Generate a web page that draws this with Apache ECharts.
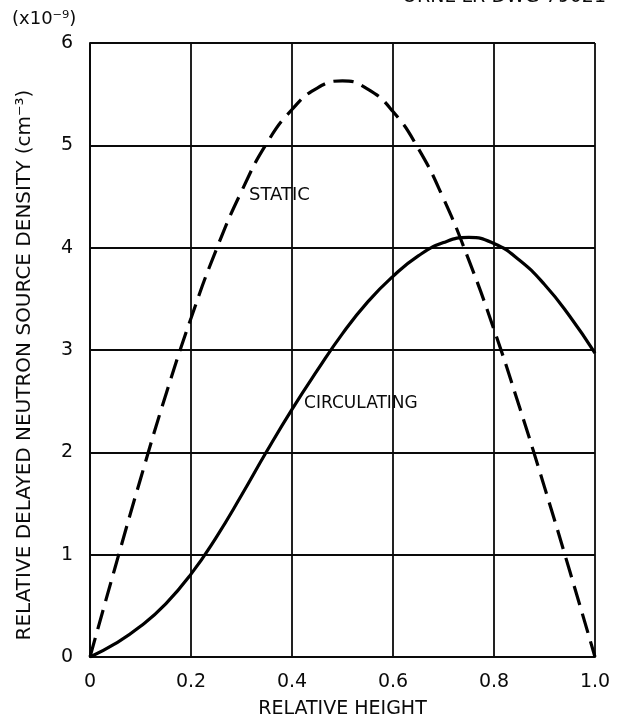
<!DOCTYPE html>
<html>
<head>
<meta charset="utf-8">
<script src="https://cdn.jsdelivr.net/npm/echarts@6/dist/echarts.min.js"></script>
<style>html,body{margin:0;padding:0;background:#fff;}#c{width:618px;height:725px;}</style>
</head>
<body>
<div id="c"></div>
<script>
var heights = [0, 0.05, 0.1, 0.15, 0.2, 0.25, 0.3, 0.35, 0.4, 0.45, 0.5, 0.55, 0.6, 0.65, 0.7, 0.75, 0.8, 0.85, 0.9, 0.95, 1.0];
var staticValues = [0, 0.88, 1.74, 2.56, 3.31, 3.98, 4.55, 5.02, 5.35, 5.56, 5.63, 5.55, 5.33, 4.97, 4.48, 3.88, 3.20, 2.45, 1.66, 0.84, 0];
var circulatingValues = [0, 0.13, 0.30, 0.52, 0.81, 1.17, 1.58, 2.01, 2.42, 2.80, 3.16, 3.47, 3.72, 3.92, 4.05, 4.10, 4.04, 3.88, 3.64, 3.33, 2.97];
var xTickLabels = ['0', '0.2', '0.4', '0.6', '0.8', '1.0'];
var yTickLabels = ['0', '1', '2', '3', '4', '5', '6'];
var curveLabels = [{name: 'STATIC', at: [0.315, 4.51]}, {name: 'CIRCULATING', at: [0.424, 2.48]}];

function pairs(xs, ys) { return xs.map(function (x, i) { return [x, ys[i]]; }); }

var font = 'DejaVu Sans';
var ink = '#0a0a0a';
var chart = echarts.init(document.getElementById('c'), null, {renderer: 'canvas'});
chart.setOption({
  animation: false,
  backgroundColor: '#fff',
  grid: {left: 90, right: 23, top: 43, bottom: 68, containLabel: false},
  xAxis: {
    type: 'value', min: 0, max: 1, interval: 0.2,
    name: 'RELATIVE HEIGHT', nameLocation: 'middle', nameGap: 43,
    nameTextStyle: {fontFamily: font, fontSize: 19, color: ink},
    axisLine: {show: true, lineStyle: {color: ink, width: 2}},
    axisTick: {show: false},
    axisLabel: {fontFamily: font, fontSize: 19, color: ink, margin: 16,
      formatter: function (v) { return xTickLabels[Math.round(v / 0.2)]; }},
    splitLine: {show: true, lineStyle: {color: ink, width: 1.8}}
  },
  yAxis: {
    type: 'value', min: 0, max: 6, interval: 1,
    name: 'RELATIVE DELAYED NEUTRON SOURCE DENSITY (cm\u207B\u00B3)', nameLocation: 'middle', nameGap: 55,
    nameTextStyle: {fontFamily: font, fontSize: 20, color: ink, padding: [0, 30, 0, 0]},
    axisLine: {show: true, lineStyle: {color: ink, width: 2}},
    axisTick: {show: false},
    axisLabel: {fontFamily: font, fontSize: 19, color: ink, margin: 17,
      formatter: function (v) { return yTickLabels[Math.round(v)]; }},
    splitLine: {show: true, lineStyle: {color: ink, width: 1.8}}
  },
  graphic: [
    {type: 'text', left: 12, top: 10, style: {text: '(x10\u207B\u2079)', fontFamily: font, fontSize: 18, fill: ink}},
    {type: 'text', right: 12, top: -12, style: {text: 'ORNL-LR-DWG 79021', fontFamily: font, fontSize: 19, fill: ink}}
  ],
  series: [
    {
      name: 'STATIC', type: 'line', data: pairs(heights, staticValues), smooth: 0.5,
      showSymbol: false, symbol: 'none',
      lineStyle: {color: '#000', width: 3.2, type: [20, 9]},
      markPoint: {
        symbol: 'circle', symbolSize: 0,
        label: {show: true, position: 'right', distance: 0, formatter: '{b}', fontFamily: font, fontSize: 18, color: ink},
        data: [{name: curveLabels[0].name, coord: curveLabels[0].at}]
      }
    },
    {
      name: 'CIRCULATING', type: 'line', data: pairs(heights, circulatingValues), smooth: 0.5,
      showSymbol: false, symbol: 'none',
      lineStyle: {color: '#000', width: 3.2},
      markPoint: {
        symbol: 'circle', symbolSize: 0,
        label: {show: true, position: 'right', distance: 0, formatter: '{b}', fontFamily: font, fontSize: 17, color: ink},
        data: [{name: curveLabels[1].name, coord: curveLabels[1].at}]
      }
    }
  ]
});
</script>
</body>
</html>
